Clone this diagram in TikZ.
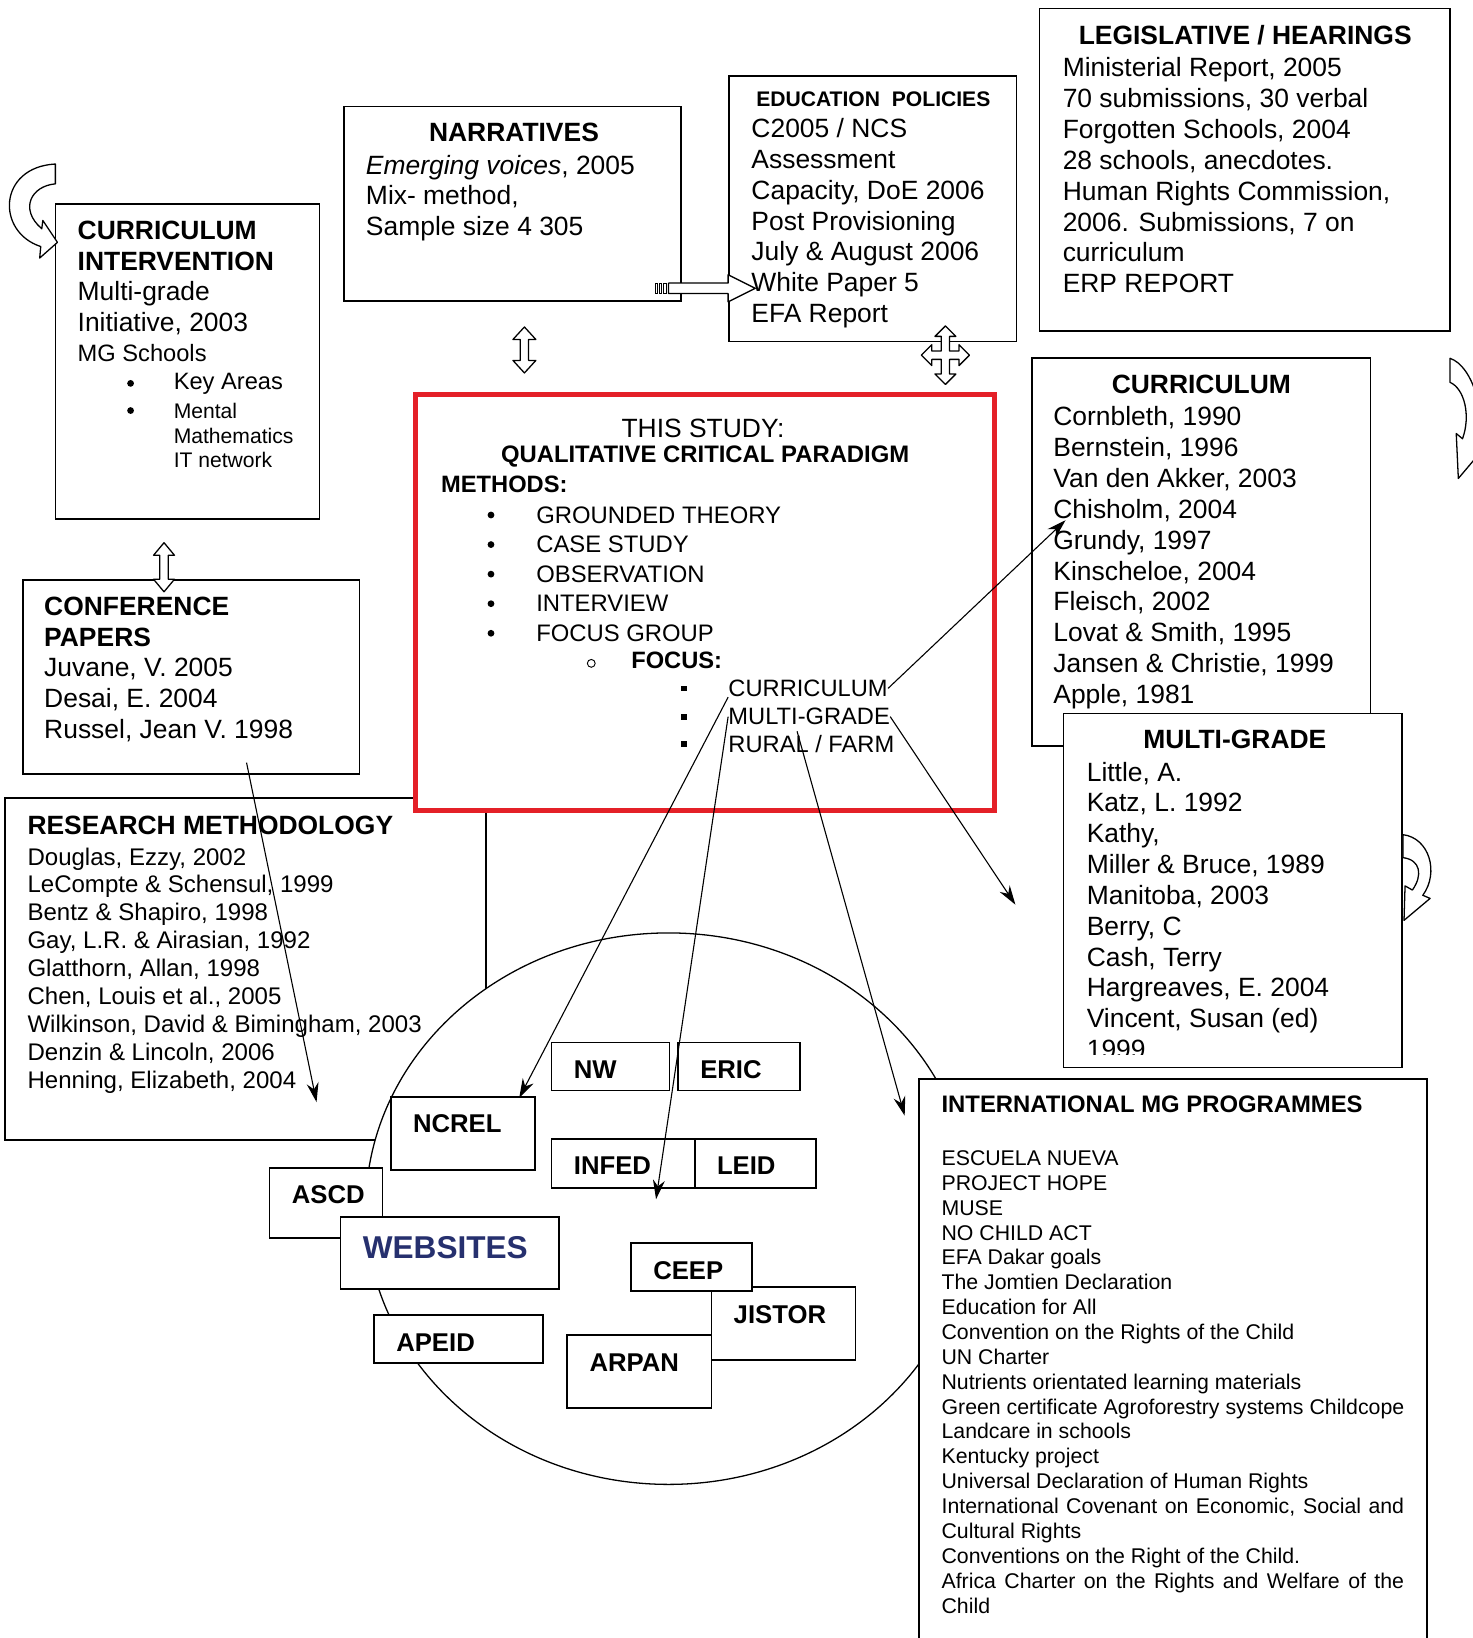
\documentclass[tikz,border=0pt]{standalone}
\usepackage{fontspec}
\setmainfont{Liberation Sans}
\usetikzlibrary{arrows.meta,fit,shapes.geometric}
\definecolor{studyred}{RGB}{228,32,40}
\definecolor{webblue}{RGB}{38,48,110}
\newcommand\fsz[2]{\fontsize{#1}{#2}\selectfont}

\begin{document}
\begin{tikzpicture}[x=0.02cm,y=-0.02cm]
  \tikzstyle{box}=[draw,line width=0.9pt,fill=white,inner sep=0pt]
  \tikzstyle{txt}=[anchor=north west,align=left,inner sep=0pt,font=\fsz{14.4}{16.8}]
  \tikzstyle{ttl}=[inner sep=0pt,font=\bfseries\fsz{14.4}{16.8}]
  \tikzstyle{site}=[draw,line width=0.9pt,fill=white,inner sep=0pt]
  \tikzstyle{sitelab}=[anchor=west,inner sep=0pt,font=\bfseries\fsz{14}{16}]
  \tikzstyle{dot}=[circle,fill,inner sep=0pt,minimum size=0.13cm]
  \tikzstyle{link}=[-{Stealth[length=10.5pt,width=6.5pt]},line width=0.6pt]
  \tikzstyle{blk}=[line width=0.7pt,fill=white,line join=round]
  \useasboundingbox (0,0) rectangle (1410,1568);
  \fill[white] (0,0) rectangle (1410,1568);

  % legislative / hearings
  \node[box,fit={(995,8) (1388,317)}] (leg) {};
  \node[ttl] (legt) at (1192,34) {LEGISLATIVE / HEARINGS};
  \node[txt] (legb) at (1017,55) {Ministerial Report, 2005\\70 submissions, 30 verbal\\Forgotten Schools, 2004\\28 schools, anecdotes.\\Human Rights Commission,\\2006. Submissions, 7 on\\curriculum\\ERP REPORT};

  % education policies
  \node[box,fit={(698,73) (973,327)}] (edu) {};
  \node[ttl,font=\bfseries\fsz{11.5}{14}] (edut) at (836,95) {EDUCATION\ \ POLICIES};
  \node[txt] (edub) at (719,113) {C2005 / NCS\\Assessment\\Capacity, DoE 2006\\Post Provisioning\\July \& August 2006\\White Paper 5\\EFA Report};

  % narratives
  \node[box,fit={(329,102) (652,288)}] (narr) {};
  \node[ttl] (narrt) at (492,127) {NARRATIVES};
  \node[txt] (narrb) at (350,148) {\textit{Emerging voices}, 2005\\Mix- method,\\Sample size 4 305};

  % curriculum intervention
  \node[box,fit={(53,195) (306,497)}] (cint) {};
  \node[txt] (cintb) at (74,211) {\textbf{CURRICULUM}\\\textbf{INTERVENTION}\\Multi-grade\\Initiative, 2003};
  \node[txt,anchor=west,font=\fsz{12.9}{15}] (cints) at (74,338) {MG Schools};
  \node[dot] (cb1) at (125,367) {};
  \node[dot] (cb2) at (125,393) {};
  \node[txt,anchor=west,font=\fsz{12.9}{15}] (cintk) at (166,367) {Key Areas};
  \node[txt,font=\fsz{11.5}{13.3}] (cintm) at (166,386) {Mental\\Mathematics\\IT network};

  % conference papers
  \node[box,fit={(22,555) (344,741)}] (conf) {};
  \node[txt] (confb) at (42,571) {\textbf{CONFERENCE}\\\textbf{PAPERS}\\Juvane, V. 2005\\Desai, E. 2004\\Russel, Jean V. 1998};

  % research methodology
  \node[box,fit={(5,764) (465,1091)}] (rm) {};
  \node[ttl,anchor=west] (rmt) at (26,790) {RESEARCH METHODOLOGY};
  \node[txt,font=\fsz{13.1}{15.25}] (rmb) at (26,811) {Douglas, Ezzy, 2002\\LeCompte \& Schensul, 1999\\Bentz \& Shapiro, 1998\\Gay, L.R. \& Airasian, 1992\\Glatthorn, Allan, 1998\\Chen, Louis et al., 2005\\Wilkinson, David \& Bimingham, 2003\\Denzin \& Lincoln, 2006\\Henning, Elizabeth, 2004};

  % websites
  \node[draw,ellipse,fill=white,line width=0.7pt,minimum width=11.6cm,minimum height=10.56cm,inner sep=0pt] (web) at (640,1157) {};

  % this study
  \node[draw=studyred,line width=2.8pt,fill=white,inner sep=0pt,fit={(398,378) (952,776)}] (study) {};
  \node[ttl,font=\fsz{14.4}{16.8}] (studyt) at (673,410) {THIS STUDY:};
  \node[ttl,font=\bfseries\fsz{13}{15}] (studyp) at (675,437) {QUALITATIVE CRITICAL PARADIGM};
  \node[ttl,anchor=west,font=\bfseries\fsz{12.9}{15}] (studym) at (422,464) {METHODS:};
  \foreach \m [count=\i] in {GROUNDED THEORY,CASE STUDY,OBSERVATION,INTERVIEW,FOCUS GROUP} {
    \node[dot] (mb\i) at (470,464.7+28.3*\i) {};
    \node[txt,anchor=west,font=\fsz{13}{15}] (m\i) at (513,464.7+28.3*\i) {\m};
  }
  \node[circle,draw,line width=0.5pt,minimum size=0.15cm,inner sep=0pt] (fo) at (566,635) {};
  \node[ttl,anchor=west,font=\bfseries\fsz{12.9}{15}] (fot) at (604,632) {FOCUS:};
  \node[fill,minimum size=0.11cm,inner sep=0pt] (sq1) at (655,659) {};
  \node[fill,minimum size=0.11cm,inner sep=0pt] (sq2) at (655,686) {};
  \node[fill,minimum size=0.11cm,inner sep=0pt] (sq3) at (655,712) {};
  \node[txt,anchor=west,font=\fsz{12.9}{15}] (fcur) at (697,659) {CURRICULUM};
  \node[txt,anchor=west,font=\fsz{12.9}{15}] (fmg) at (697,686) {MULTI-GRADE};
  \node[txt,anchor=west,font=\fsz{12.9}{15}] (frur) at (697,712) {RURAL / FARM};

  % curriculum
  \node[box,fit={(988,343) (1312,714)}] (curr) {};
  \node[ttl] (currt) at (1150,368) {CURRICULUM};
  \node[txt] (currb) at (1008,389) {Cornbleth, 1990\\Bernstein, 1996\\Van den Akker, 2003\\Chisholm, 2004\\Grundy, 1997\\Kinscheloe, 2004\\Fleisch, 2002\\Lovat \& Smith, 1995\\Jansen \& Christie, 1999\\Apple, 1981};

  % multi-grade
  \node[box,fit={(1018,683) (1342,1022)}] (mgr) {};
  \node[ttl] (mgrt) at (1182,708) {MULTI-GRADE};
  \begin{scope}
    \clip (1018,683) rectangle (1342,1009);
    \node[txt] (mgrb) at (1040,729) {Little, A.\\Katz, L. 1992\\Kathy,\\Miller \& Bruce, 1989\\Manitoba, 2003\\Berry, C\\Cash, Terry\\Hargreaves, E. 2004\\Vincent, Susan (ed)\\1999};
  \end{scope}

  % international programmes
  \node[box,fit={(880,1033) (1366,1590)}] (intl) {};
  \node[ttl,anchor=west,font=\bfseries\fsz{13}{15}] (intlt) at (901,1057) {INTERNATIONAL MG PROGRAMMES};
  \node[txt,font=\fsz{11.6}{13.55}] (intlb) at (901,1101) {ESCUELA NUEVA\\PROJECT HOPE\\MUSE\\NO CHILD ACT\\EFA Dakar goals\\The Jomtien Declaration\\Education for All\\Convention on the Rights of the Child\\UN Charter\\Nutrients orientated learning materials\\Green certificate Agroforestry systems Childcope\\Landcare in schools\\Kentucky project\\Universal Declaration of Human Rights\\\makebox[252pt][s]{International Covenant on Economic, Social and}\\Cultural Rights\\Conventions on the Right of the Child.\\\makebox[252pt][s]{Africa Charter on the Rights and Welfare of the}\\Child};

  % site boxes
  \foreach \nm/\xa/\ya/\xb/\yb/\lab in {nw/528/998/641/1044/NW,eric/649/998/766/1044/ERIC,ncrel/374/1050/512/1120/NCREL,infed/528/1090/665/1137/INFED,leid/665/1090/781/1137/LEID,ascd/258/1118/366/1185/ASCD,jistor/681/1232/819/1302/JISTOR,ceep/604/1190/720/1236/CEEP,arpan/543/1278/681/1348/ARPAN,apeid/358/1259/520/1305/APEID} {
    \node[site,fit={(\xa,\ya) (\xb,\yb)}] (\nm) {};
    \node[sitelab] (\nm-l) at (\xa+21,\ya+26) {\lab};
  }
  \node[site,fit={(326,1165) (535,1234)}] (websites) {};
  \node[sitelab,text=webblue,font=\bfseries\fsz{17.2}{20}] (websites-l) at (347,1194) {WEBSITES};

  % block arrows
  \draw[blk,shift={(502,335)}] (0,-22) -- ++(11,12) -- ++(-7,0) -- ++(0,20) -- ++(7,0) -- ++(-11,12) -- ++(-11,-12) -- ++(7,0) -- ++(0,-20) -- ++(-7,0) -- cycle;
  \draw[blk,shift={(157,543)}] (0,-23.5) -- ++(10,12) -- ++(-6,0) -- ++(0,23) -- ++(6,0) -- ++(-10,12) -- ++(-10,-12) -- ++(6,0) -- ++(0,-23) -- ++(-6,0) -- cycle;
  \draw[blk,shift={(905,340)}] (0,-28) -- (10,-18) -- (4,-18) -- (4,-4) -- (13,-4) -- (13,-10) -- (23,0) -- (13,10) -- (13,4) -- (4,4) -- (4,18) -- (10,18) -- (0,28) -- (-10,18) -- (-4,18) -- (-4,4) -- (-13,4) -- (-13,10) -- (-23,0) -- (-13,-10) -- (-13,-4) -- (-4,-4) -- (-4,-18) -- (-10,-18) -- cycle;
  \foreach \s in {627,631,635} \draw[line width=0.5pt,fill=white] (\s,271) rectangle ++(2.5,10);
  \draw[blk] (640,271) -- (697,271) -- (697,263) -- (723,276) -- (697,289) -- (697,281) -- (640,281) -- cycle;
  \draw[blk] (53,157) -- (53,176) .. controls (30,178) and (18,200) .. (40,219) -- (41,211) -- (55,232) -- (38,247) -- (39,236) .. controls (-4,222) and (-2,160) .. (53,157) -- cycle;
  \draw[blk] (1388,343) .. controls (1410,350) and (1425,400) .. (1412,428) -- (1418,432) -- (1396,458) -- (1394,415) -- (1400,420) .. controls (1408,398) and (1402,372) .. (1388,366) -- cycle;
  \draw[blk] (1343,799) .. controls (1368,802) and (1378,835) .. (1362,857) -- (1369,860) -- (1344,881) -- (1345,848) -- (1352,852) .. controls (1362,838) and (1360,823) .. (1343,821) -- cycle;

  % links
  \coordinate (toChis) at (1020,498);
  \coordinate (toNcrel) at (497,1051);
  \coordinate (toInfed) at (628,1148);
  \coordinate (toIntl) at (866,1068);
  \coordinate (toMg) at (972,866);
  \coordinate (toRm) at (303,1055);
  \coordinate (fromConf) at (236,730);
  \coordinate (fromRural) at (763,700);
  \draw[link] (fcur.east) -- (toChis);
  \draw[link] (fcur.south west) -- (toNcrel);
  \draw[link] (fmg.west) -- (toInfed);
  \draw[link] (fromRural) -- (toIntl);
  \draw[link] (fmg.east) -- (toMg);
  \draw[link] (fromConf) -- (toRm);
\end{tikzpicture}
\end{document}
